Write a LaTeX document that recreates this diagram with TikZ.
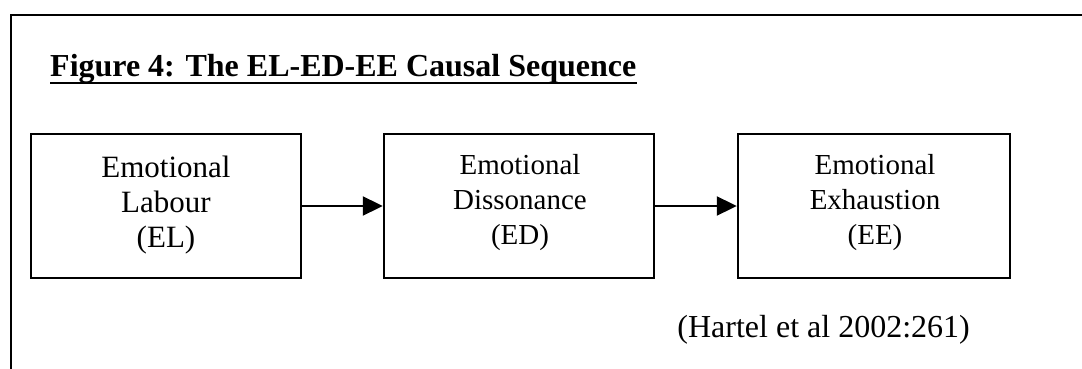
\documentclass[tikz,border=0pt]{standalone}
\usepackage{fontspec}
\setmainfont{Liberation Serif}
\usetikzlibrary{arrows.meta}

\tikzset{
  frameline/.style={line width=2pt, line cap=rect},
  stagebox/.style={draw, line width=2.4pt, minimum width=#1, minimum height=144pt, inner sep=0pt},
  stagetext/.style={align=center, inner sep=0pt, anchor=north},
  bigfont/.style={font=\fontsize{31}{35}\selectfont},
  smallfont/.style={font=\fontsize{29}{35}\selectfont},
  flow/.style={line width=2pt, -{Triangle[length=20pt,width=19pt]}},
}

\begin{document}
\begin{tikzpicture}[x=1pt, y=-1pt]
  \useasboundingbox (0,0) rectangle (1082,369);

  % open frame: left and top edges only
  \draw[frameline] (11,369) -- (11,15) -- (1082,15);

  % heading
  \node[anchor=base west, inner sep=0pt, font=\fontsize{32}{36}\selectfont\bfseries]
    (ttl) at (50,77) {Figure 4: The EL-ED-EE Causal Sequence};
  \draw[line width=2.2pt] ([yshift=-6pt]ttl.base west) -- ([yshift=-6pt]ttl.base east);

  % the three stages
  \node[stagebox=270pt] (el) at (166,206) {};
  \node[stagebox=270pt] (ed) at (519,206) {};
  \node[stagebox=272pt] (ee) at (874,206) {};

  \node[stagetext, bigfont]   (elt) at (166,156) {Emotional\\Labour\\(EL)};
  \node[stagetext, smallfont] (edt) at (520,154) {Emotional\\Dissonance\\(ED)};
  \node[stagetext, smallfont] (eet) at (875,154) {Emotional\\Exhaustion\\(EE)};

  % causal links
  \draw[flow] (el.east) -- (ed.west);
  \draw[flow] (ed.east) -- (ee.west);

  % source
  \node[anchor=base east, inner sep=0pt, font=\fontsize{32}{36}\selectfont]
    (src) at (970,337) {(Hartel et al 2002:261)};
\end{tikzpicture}
\end{document}
